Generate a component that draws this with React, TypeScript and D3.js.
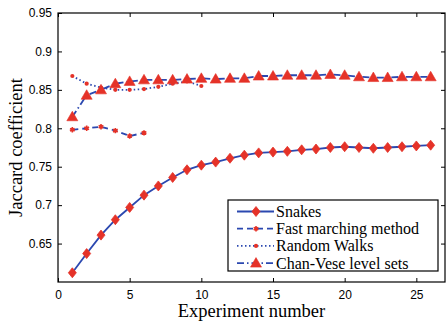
import React, { useEffect, useRef } from "react";
import * as d3 from "d3";

// values
const snakesX = d3.range(1, 27);
const snakes = [0.612, 0.637, 0.661, 0.681, 0.697, 0.713, 0.725, 0.736, 0.746, 0.752, 0.756, 0.761, 0.765, 0.768, 0.769, 0.770, 0.772, 0.773, 0.775, 0.776, 0.775, 0.774, 0.775, 0.776, 0.777, 0.778];
const fastX = [1, 2, 3, 4, 5, 6];
const fastMarching = [0.798, 0.800, 0.802, 0.797, 0.790, 0.794];
const walksX = d3.range(1, 11);
const randomWalks = [0.868, 0.858, 0.853, 0.850, 0.850, 0.851, 0.854, 0.858, 0.861, 0.855];
const chanX = d3.range(1, 27);
const chanVese = [0.815, 0.843, 0.850, 0.858, 0.861, 0.863, 0.863, 0.863, 0.864, 0.865, 0.864, 0.865, 0.865, 0.868, 0.868, 0.869, 0.869, 0.869, 0.870, 0.869, 0.867, 0.866, 0.866, 0.867, 0.867, 0.867];

const xTicks = [0, 5, 10, 15, 20, 25];
const yTicks = [0.65, 0.7, 0.75, 0.8, 0.85, 0.9, 0.95];
const legendNames = ["Snakes", "Fast marching method", "Random Walks", "Chan-Vese level sets"];

const BLUE = "#2b48b0";
const RED = "#e53228";
const SERIF = "Liberation Serif, Times New Roman, serif";

export default function App() {
  const ref = useRef<SVGSVGElement>(null);

  useEffect(() => {
    const svg = d3.select(ref.current);
    svg.selectAll("*").remove();

    const left = 58, right = 445, top = 13, bottom = 282;
    const x = d3.scaleLinear().domain([0, 27]).range([left, right]);
    const y = d3.scaleLinear().domain([0.6, 0.95]).range([bottom, top]);

    svg.append("rect").attr("width", 447).attr("height", 324).attr("fill", "#fff");

    // frame
    svg.append("rect")
      .attr("x", left).attr("y", top)
      .attr("width", right - left).attr("height", bottom - top)
      .attr("fill", "none").attr("stroke", "#000").attr("stroke-width", 1.2);

    const tickLen = 4;
    const xAxis = svg.append("g").attr("transform", `translate(0,${bottom})`)
      .call(d3.axisBottom(x).tickValues(xTicks).tickSizeInner(-tickLen).tickSizeOuter(0).tickPadding(8));
    const xTop = svg.append("g").attr("transform", `translate(0,${top})`)
      .call(d3.axisTop(x).tickValues(xTicks).tickSizeInner(-tickLen).tickSizeOuter(0).tickFormat(() => ""));
    const yAxis = svg.append("g").attr("transform", `translate(${left},0)`)
      .call(d3.axisLeft(y).tickValues(yTicks).tickSizeInner(-tickLen).tickSizeOuter(0).tickPadding(6)
        .tickFormat(d3.format("")));
    const yRight = svg.append("g").attr("transform", `translate(${right},0)`)
      .call(d3.axisRight(y).tickValues(yTicks).tickSizeInner(-tickLen).tickSizeOuter(0).tickFormat(() => ""));

    [xAxis, xTop, yAxis, yRight].forEach((g) => {
      g.select(".domain").remove();
      g.selectAll("line").attr("stroke", "#000");
      g.selectAll("text")
        .attr("font-family", "Liberation Sans, Arial, sans-serif")
        .attr("font-size", 12)
        .attr("fill", "#000");
    });

    const line = d3.line<[number, number]>().x((d) => x(d[0])).y((d) => y(d[1]));
    const pts = (xs: number[], ys: number[]) => xs.map((v, i) => [v, ys[i]] as [number, number]);

    const series = [
      { pts: pts(snakesX, snakes), dash: null, marker: "diamond" },
      { pts: pts(fastX, fastMarching), dash: "6,4", marker: "star" },
      { pts: pts(walksX, randomWalks), dash: "1.5,2.5", marker: "dot" },
      { pts: pts(chanX, chanVese), dash: "7,3,1.5,3", marker: "triangle" },
    ];

    const drawMarker = (g: d3.Selection<any, any, any, any>, kind: string, cx: number, cy: number) => {
      if (kind === "diamond") {
        g.append("path")
          .attr("d", `M${cx},${cy - 5}L${cx + 4},${cy}L${cx},${cy + 5}L${cx - 4},${cy}Z`)
          .attr("fill", RED).attr("stroke", RED).attr("stroke-width", 0.8);
      } else if (kind === "star") {
        g.append("path")
          .attr("d", d3.symbol(d3.symbolAsterisk, 20)())
          .attr("transform", `translate(${cx},${cy})`)
          .attr("fill", "none").attr("stroke", RED).attr("stroke-width", 1.6);
        g.append("circle").attr("cx", cx).attr("cy", cy).attr("r", 1.7).attr("fill", RED);
      } else if (kind === "dot") {
        g.append("circle").attr("cx", cx).attr("cy", cy).attr("r", 2.1).attr("fill", RED);
      } else {
        g.append("path")
          .attr("d", `M${cx},${cy - 5.5}L${cx + 5.5},${cy + 4}L${cx - 5.5},${cy + 4}Z`)
          .attr("fill", RED).attr("stroke", RED).attr("stroke-width", 0.6);
      }
    };

    series.forEach((s) => {
      svg.append("path")
        .attr("d", line(s.pts))
        .attr("fill", "none")
        .attr("stroke", BLUE)
        .attr("stroke-width", 1.8)
        .attr("stroke-dasharray", s.dash);
      const g = svg.append("g");
      s.pts.forEach((p) => drawMarker(g, s.marker, x(p[0]), y(p[1])));
    });

    // legend
    const lg = svg.append("g");
    lg.append("rect")
      .attr("x", 228).attr("y", 200).attr("width", 210).attr("height", 71)
      .attr("fill", "#fff").attr("stroke", "#000").attr("stroke-width", 1.2);
    legendNames.forEach((name, i) => {
      const ly = 211.5 + i * 17.2;
      lg.append("line")
        .attr("x1", 237).attr("x2", 274).attr("y1", ly).attr("y2", ly)
        .attr("stroke", BLUE).attr("stroke-width", 1.8)
        .attr("stroke-dasharray", series[i].dash);
      drawMarker(lg, series[i].marker, 256, ly);
      lg.append("text")
        .attr("x", 276).attr("y", ly + 5.5)
        .attr("font-family", SERIF)
        .attr("font-size", 16)
        .attr("fill", "#000")
        .text(name);
    });

    svg.append("text")
      .attr("x", (left + right) / 2).attr("y", 317)
      .attr("text-anchor", "middle")
      .attr("font-family", SERIF)
      .attr("font-size", 18.5)
      .text("Experiment number");

    svg.append("text")
      .attr("transform", `translate(22,${(top + bottom) / 2}) rotate(-90)`)
      .attr("text-anchor", "middle")
      .attr("font-family", SERIF)
      .attr("font-size", 18.5)
      .text("Jaccard coefficient");
  }, []);

  return (
    <svg
      ref={ref}
      width={447}
      height={324}
      style={{ position: "absolute", left: 0, top: 0, display: "block" }}
    />
  );
}
